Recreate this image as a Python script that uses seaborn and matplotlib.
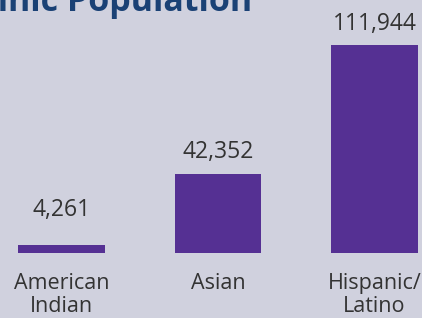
import pandas as pd
import seaborn as sns
import matplotlib.pyplot as plt

categories = ['American\nIndian', 'Asian', 'Hispanic/\nLatino']
population = [4261, 42352, 111944]
value_labels = ['4,261', '42,352', '111,944']
label_offsets = [29, 16, 15]  # px between bar top and label baseline

bg = '#d0d1de'
bar_color = '#553093'

sns.set_theme(style='white')
plt.rcParams['font.family'] = ['Open Sans', 'DejaVu Sans']

fig = plt.figure(figsize=(4.22, 3.18), dpi=100, facecolor=bg)
ax = fig.add_axes([0, 65 / 318, 1, 208 / 318])
ax.set_facecolor(bg)

df = pd.DataFrame({'group': categories, 'population': population})
sns.barplot(data=df, x='group', y='population', color=bar_color,
            saturation=1, width=0.555, linewidth=0, edgecolor='none', ax=ax)

ax.set_xlim(-61.5 / 156.5, 2 + 47.5 / 156.5)
ax.set_ylim(0, max(population))
for s in ax.spines.values():
    s.set_visible(False)
ax.set_yticks([])
ax.set_xticks([])
ax.set_xlabel('')
ax.set_ylabel('')

for i, (v, lab, off) in enumerate(zip(population, value_labels, label_offsets)):
    ax.annotate(lab, (i, v), xytext=(0, off * 0.72), textcoords='offset points',
                ha='center', va='baseline', fontsize=16.5, color='#333333',
                annotation_clip=False)
    ax.annotate(categories[i], (i, 0), xytext=(0, -20 * 0.72), textcoords='offset points',
                ha='center', va='top', fontsize=15.5, color='#333333',
                linespacing=1.15, annotation_clip=False)

fig.text(252 / 422, 1 - 11 / 318, 'Ethnic Population', ha='right', va='baseline',
         fontsize=24.5, fontweight='bold', color='#1a4175')

fig.savefig('out.png', dpi=100, facecolor=bg)
